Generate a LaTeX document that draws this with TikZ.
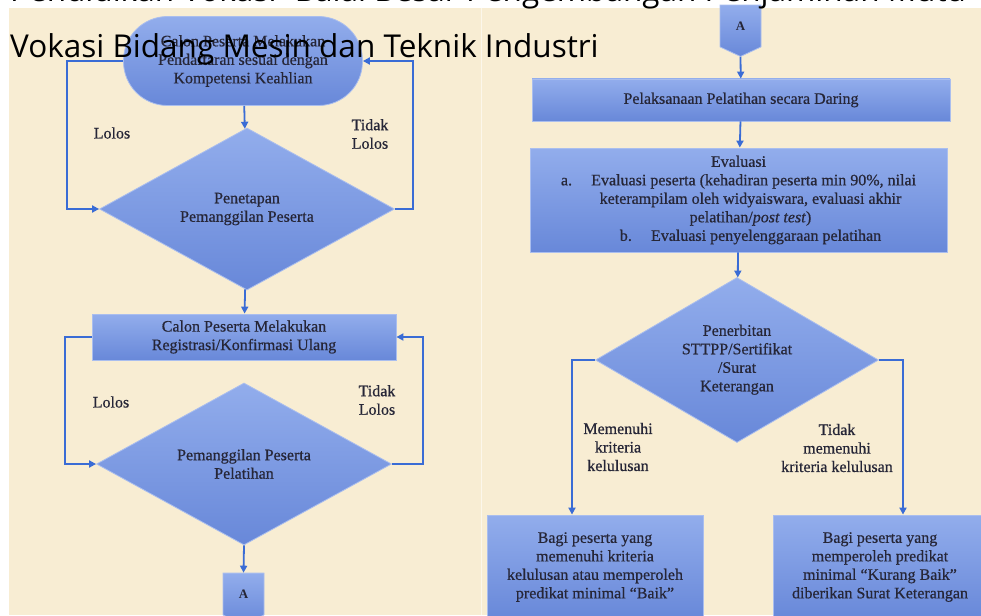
\documentclass[tikz,border=0pt]{standalone}
\usepackage{fontspec}
\setmainfont{Liberation Serif}
\newfontfamily\flowfont[Ligatures=TeX,FakeBold=0.6]{Liberation Serif}
\newfontfamily\headfont{Open Sans}
\usetikzlibrary{shapes.geometric,shapes.symbols,arrows.meta}

\definecolor{panelbg}{RGB}{248,237,211}
\definecolor{boxtop}{RGB}{146,173,236}
\definecolor{boxbot}{RGB}{104,136,217}
\definecolor{boxedge}{RGB}{170,190,238}
\definecolor{flowline}{RGB}{58,108,213}
\definecolor{inktext}{RGB}{38,38,55}

\tikzset{
  flowtext/.style={text=inktext, align=center, font=\flowfont\fontsize{16}{18.5}\selectfont},
  flowbox/.style={flowtext, rectangle, top color=boxtop, bottom color=boxbot,
    draw=boxedge, line width=0.8pt, inner sep=0pt},
  flowstart/.style={flowbox, rounded corners=44pt},
  flowdec/.style={flowbox, diamond, aspect=1.8},
  flowconn/.style={flowbox, signal, signal to=south, signal pointer angle=130,
    minimum width=41pt, minimum height=44pt, font=\fontsize{13}{15}\selectfont\bfseries},
  flowlabel/.style={flowtext, inner sep=0pt},
  flowarrow/.style={draw=flowline, line width=1.8pt, -{Triangle[length=7pt,width=7pt]}},
  flowlink/.style={draw=flowline, line width=1.8pt}
}

\begin{document}
\begin{tikzpicture}[x=1pt,y=-1pt]
\useasboundingbox (0,0) rectangle (981,615);
\clip (0,0) rectangle (981,615);
\fill[white] (0,0) rectangle (981,615);
\fill[panelbg] (9,8) rectangle (981,615);
\draw[white!55!panelbg, line width=1pt] (481,8) -- (481,615);

% left column: pendaftaran sampai pemanggilan
\node[flowstart, minimum width=239pt, minimum height=89pt] (daftar) at (243,61)
  {Calon Peserta Melakukan\\Pendaftaran sesuai dengan\\Kompetensi Keahlian};
\node[flowdec, minimum width=295pt, minimum height=162pt] (tetap) at (247,209)
  {\\[-8pt]Penetapan\\Pemanggilan Peserta};
\node[flowbox, minimum width=304pt, minimum height=46pt] (regis) at (244,337)
  {Calon Peserta Melakukan\\Registrasi/Konfirmasi Ulang};
\node[flowdec, minimum width=295pt, minimum height=162pt] (panggil) at (244,464)
  {Pemanggilan Peserta\\Pelatihan};
\node[flowconn] (konA) at (243.5,594) {A};

\draw[flowarrow] (daftar) -- (tetap);
\draw[flowarrow] (daftar.west) -- ++(-56,0) |- (tetap.west);
\draw[flowarrow] (tetap.east) -- ++(18,0) |- (daftar.east);
\draw[flowarrow] (tetap) -- (regis);
\draw[flowarrow] (regis.west) -- ++(-27,0) |- (panggil.west);
\draw[flowarrow] (panggil.east) -- ++(31,0) |- (regis.east);
\draw[flowarrow] (panggil.south) -- (konA.north);

\node[flowlabel] (lolos1) at (112,133) {Lolos};
\node[flowlabel] (tlolos1) at (370,134) {Tidak\\Lolos};
\node[flowlabel] (lolos2) at (111,402) {Lolos};
\node[flowlabel] (tlolos2) at (377,400) {Tidak\\Lolos};

% right column: pelatihan sampai sertifikat
\node[flowconn] (konB) at (740.5,26) {A};
\node[flowbox, minimum width=418pt, minimum height=42pt] (daring) at (741,100)
  {Pelaksanaan Pelatihan secara Daring};
\node[flowbox, minimum width=417pt, minimum height=104pt] (evaluasi) at (738.5,200)
  {Evaluasi\\
   a.\hspace{1.2em}Evaluasi peserta (kehadiran peserta min 90\%, nilai\\
   \hspace*{24pt}keterampilam oleh widyaiswara, evaluasi akhir\\
   \hspace*{24pt}pelatihan/\textit{post test})\\
   \hspace*{24pt}b.\hspace{1.2em}Evaluasi penyelenggaraan pelatihan};
\node[flowdec, minimum width=283pt, minimum height=165pt] (terbit) at (737,360)
  {\\[-8pt]Penerbitan\\STTPP/Sertifikat\\/Surat\\Keterangan};
\node[flowbox, minimum width=216pt, minimum height=104pt] (lulus) at (595,567)
  {Bagi peserta yang\\memenuhi kriteria\\kelulusan atau memperoleh\\predikat minimal “Baik”};
\node[flowbox, minimum width=214pt, minimum height=104pt] (gagal) at (880,567)
  {Bagi peserta yang\\memperoleh predikat\\minimal “Kurang Baik”\\diberikan Surat Keterangan};

\draw[flowarrow] (konB.south) -- (daring);
\draw[flowarrow] (daring) -- (evaluasi);
\draw[flowarrow] (evaluasi) -- (terbit);
\draw[flowarrow] (terbit.west) -| ([xshift=-23pt]lulus.north);
\draw[flowarrow] (terbit.east) -| ([xshift=23pt]gagal.north);

\node[flowlabel] (memenuhi) at (618,447) {Memenuhi\\kriteria\\kelulusan};
\node[flowlabel] (tmemenuhi) at (837,448) {Tidak\\memenuhi\\kriteria kelulusan};

% judul slide di atas gambar
\node[anchor=base west, inner sep=0pt, font=\headfont\fontsize{31.5}{38}\selectfont] (judul1) at (10,2)
  {Pendidikan Vokasi- Balai Besar Pengembangan Penjaminan Mutu};
\node[anchor=base west, inner sep=0pt, font=\headfont\fontsize{31.5}{38}\selectfont] (judul2) at (10,58)
  {Vokasi Bidang Mesin dan Teknik Industri};
\end{tikzpicture}
\end{document}
